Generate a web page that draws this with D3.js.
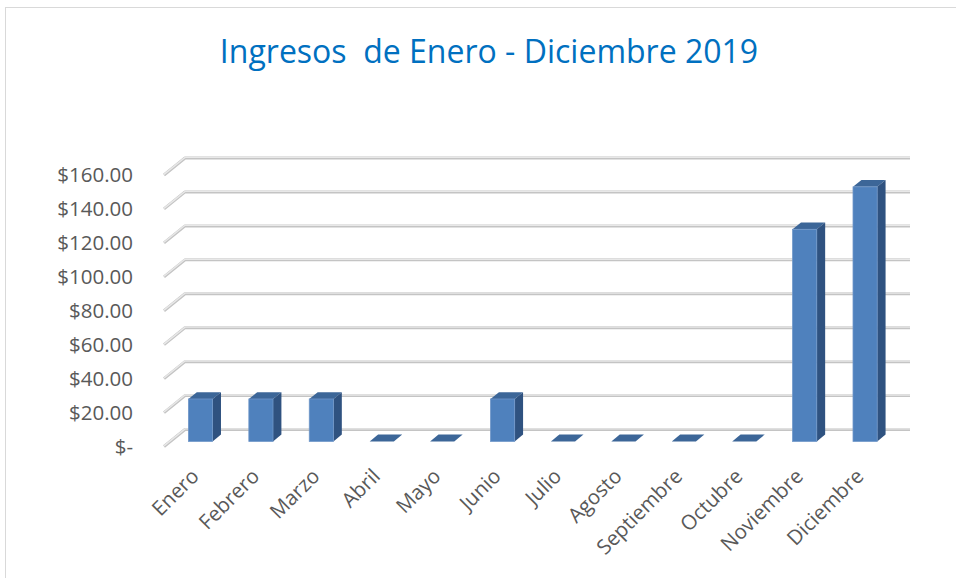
<!DOCTYPE html>
<html>
<head>
<meta charset="utf-8">
<script src="https://cdn.jsdelivr.net/npm/d3@7"></script>
<style>
  body { margin: 0; background: #fff; }
  text { font-family: "Open Sans", "Noto Sans", sans-serif; }
</style>
</head>
<body>
<div id="chart"></div>
<script>
// data
let months = ["Enero", "Febrero", "Marzo", "Abril", "Mayo", "Junio", "Julio",
              "Agosto", "Septiembre", "Octubre", "Noviembre", "Diciembre"];
let ingresos = [25, 25, 25, 0, 0, 25, 0, 0, 0, 0, 125, 150];
let yTicks = [0, 20, 40, 60, 80, 100, 120, 140, 160];
let title = "Ingresos\u00a0 de Enero - Diciembre 2019";

let W = 956, H = 578;

// back wall of the 3d box
let x = d3.scaleBand().domain(months).range([185, 910]).padding(0),
    y = d3.scaleLinear().domain([0, 160]).range([429.5, 158]);

// full depth of the floor (front minus back)
let depthX = -21, depthY = 17;
let barFront = 0.7, barBack = 0.3;   // bar sits in middle of the depth

let fmt = v => v === 0 ? "$-" : "$" + d3.format(",.2f")(v);

let svg = d3.select("#chart").append("svg")
  .attr("width", W).attr("height", H);

// chart border
svg.append("rect")
  .attr("x", 5.5).attr("y", 7.5)
  .attr("width", W + 20).attr("height", H + 20)
  .attr("fill", "none").attr("stroke", "#d9d9d9");

svg.append("text")
  .attr("x", 489).attr("y", 63)
  .attr("text-anchor", "middle")
  .attr("font-size", 32)
  .attr("fill", "#0070c0")
  .text(title);

// gridlines: back wall line + left wall diagonal
let grid = svg.append("g");
yTicks.forEach(function(t) {
  let yb = y(t);
  let pts = [[x.range()[0] + depthX, yb + depthY], [x.range()[0], yb], [x.range()[1], yb]];
  grid.append("polyline")
    .attr("points", pts.map(p => p.join(",")).join(" "))
    .attr("fill", "none")
    .attr("stroke", "#c4c4c4")
    .attr("stroke-width", 3)
    .attr("stroke-linejoin", "round");
  grid.append("polyline")
    .attr("points", pts.map(p => [p[0], p[1] - 0.6].join(",")).join(" "))
    .attr("fill", "none")
    .attr("stroke", "#e8e8e8")
    .attr("stroke-width", 1.4);
});

// y labels along the front edge
svg.append("g").selectAll("text")
  .data(yTicks)
  .enter().append("text")
  .attr("x", 133)
  .attr("y", d => y(d) + depthY)
  .attr("dy", "0.35em")
  .attr("text-anchor", "end")
  .attr("font-size", 20.5)
  .attr("fill", "#595959")
  .text(fmt);

// bars
let bw = x.bandwidth() * 0.4;
let fdx = depthX * barFront, fdy = depthY * barFront;
let sdx = depthX * (barFront - barBack), sdy = depthY * (barFront - barBack);

let bars = svg.append("g").selectAll("g")
  .data(months.map((m, i) => ({m: m, v: ingresos[i]})))
  .enter().append("g");

bars.each(function(d) {
  let g = d3.select(this);
  let x0 = x(d.m) + x.bandwidth() / 2 - bw / 2 + fdx,
      x1 = x0 + bw,
      yb = y(0) + fdy,
      yt = y(d.v) + fdy;
  let pt = p => p.join(",");
  // top
  g.append("polygon")
    .attr("points", [[x0, yt], [x1, yt], [x1 - sdx, yt - sdy], [x0 - sdx, yt - sdy]].map(pt).join(" "))
    .attr("fill", "#3c6698");
  if (d.v > 0) {
    // side
    g.append("polygon")
      .attr("points", [[x1, yt], [x1 - sdx, yt - sdy], [x1 - sdx, yb - sdy], [x1, yb]].map(pt).join(" "))
      .attr("fill", "#2f5280");
    // front
    g.append("rect")
      .attr("x", x0).attr("y", yt)
      .attr("width", bw).attr("height", yb - yt)
      .attr("fill", "#4f81bd")
      .attr("stroke", "#6f96c8")
      .attr("stroke-width", 0.8);
  }
});

// x labels, rotated
svg.append("g").selectAll("text")
  .data(months)
  .enter().append("text")
  .attr("transform", d => "translate(" + (x(d) + x.bandwidth() / 2 + depthX + 6) + "," + (y(0) + depthY + 31) + ") rotate(-45)")
  .attr("text-anchor", "end")
  .attr("font-size", 20.5)
  .attr("fill", "#595959")
  .text(d => d);
</script>
</body>
</html>
